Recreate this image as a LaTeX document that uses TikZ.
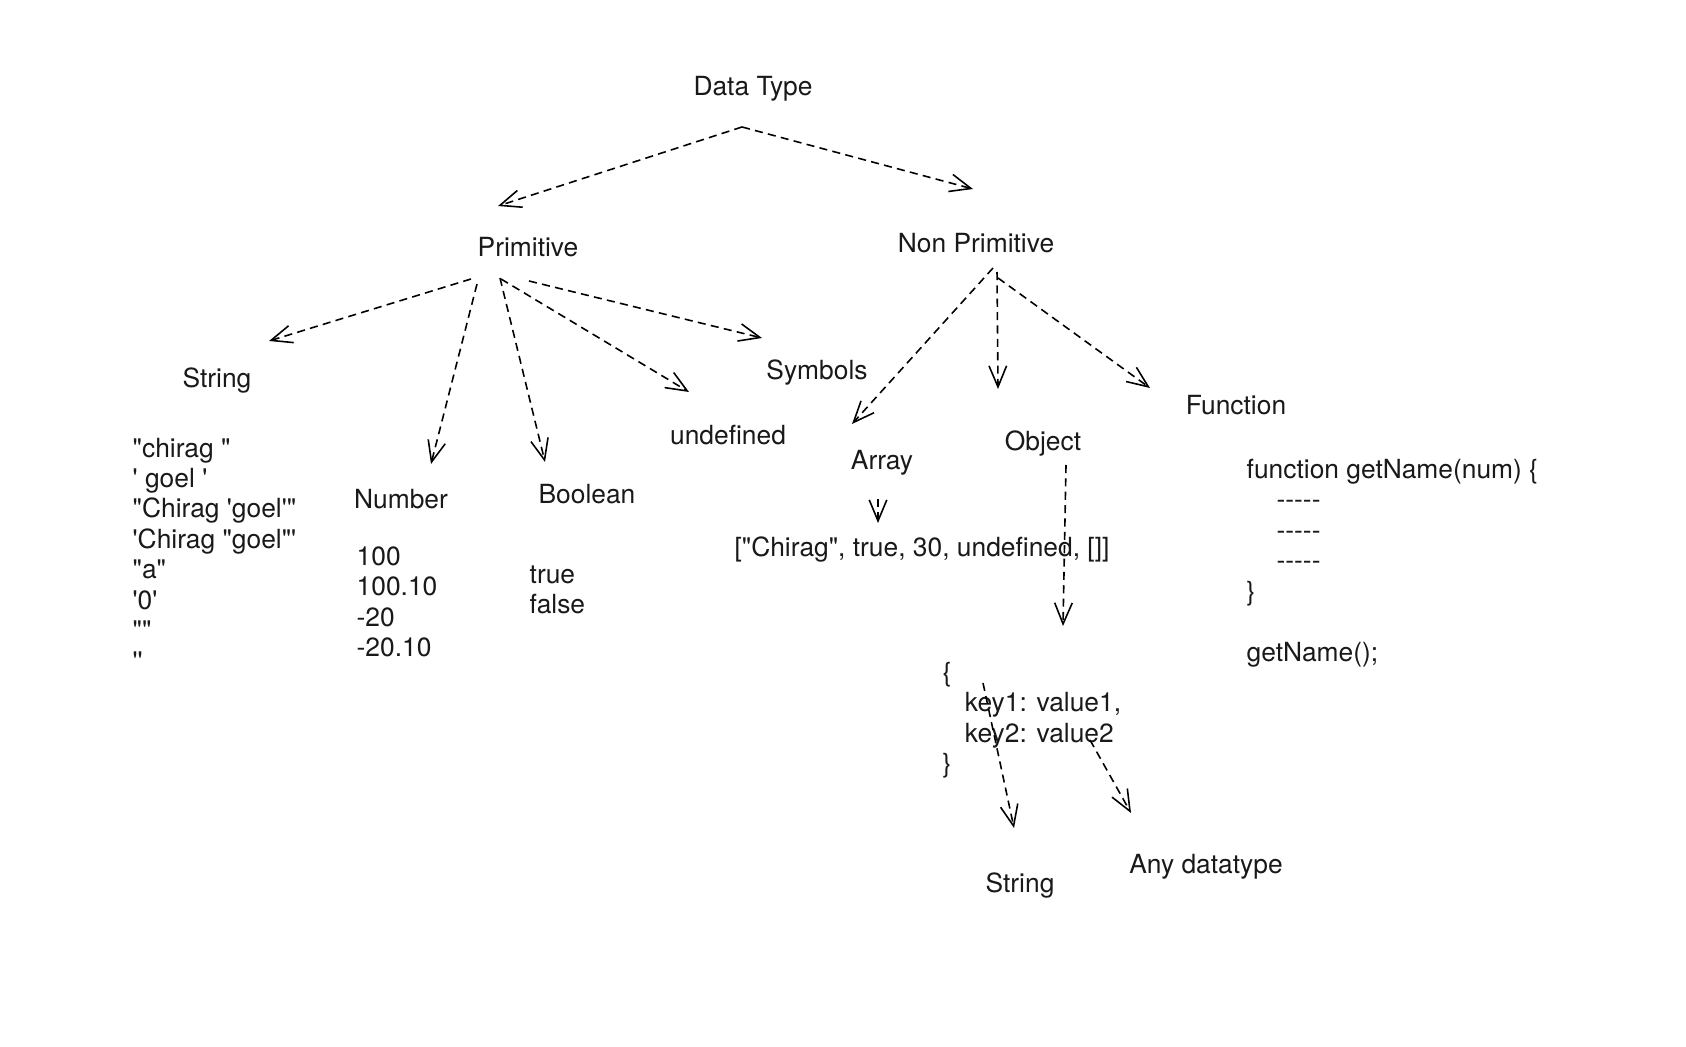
\documentclass[tikz,border=0pt]{standalone}
\usepackage{fontspec}
\newfontfamily\heros{TeX Gyre Heros}
\usetikzlibrary{arrows.meta}

\begin{document}
\begin{tikzpicture}[x=0.01cm, y=-0.01cm,
      tname/.style={font=\heros\fontsize{7.5pt}{8.65pt}\selectfont, text=black!90, inner sep=0pt},
      tlist/.style={tname, align=left, anchor=west},
      dasharrow/.style={line width=0.45pt, dash pattern=on 2.3pt off 1.5pt, -{Straight Barb[length=6pt, width=5pt]}}
    ]
    \useasboundingbox (0,0) rectangle (1686,1046);

    % tree labels
    \node[tname] (dt) at (753,89) {Data Type};
    \node[tname] (prim) at (528,247) {Primitive};
    \node[tname] (nprim) at (976,243) {Non Primitive};
    \node[tname] (string) at (217,381) {String};
    \node[tname] (number) at (401,499) {Number};
    \node[tname] (bool) at (587,494) {Boolean};
    \node[tname] (undef) at (728,435) {undefined};
    \node[tname] (symb) at (817,373) {Symbols};
    \node[tname] (array) at (882,463) {Array};
    \node[tname] (object) at (1043,444) {Object};
    \node[tname] (func) at (1236,405) {Function};
    \node[tname] (keystr) at (1020,886) {String};
    \node[tname] (anyt) at (1206,867) {Any datatype};

    % examples
    \node[tlist] (strval) at (132,554) {"chirag "\\' goel '\\"Chirag 'goel'"\\'Chirag "goel"'\\"a"\\'0'\\""\\''};
    \node[tlist] (numval) at (356,602) {100\\100.10\\-20\\-20.10};
    \node[tlist] (boolval) at (529,590) {true\\false};
    \node[tname] (arrval) at (922,550) {["Chirag", true, 30, undefined, []]};
    \node[tlist] (objval) at (942,720) {\{\\\hspace*{6.3pt}key1: value1,\\\hspace*{6.3pt}key2: value2\\\}};
    \node[tlist] (funcval) at (1246,563) {function getName(num) \{\\\hspace*{8.5pt}-----\\\hspace*{8.5pt}-----\\\hspace*{8.5pt}-----\\\}\\[8.65pt]getName();};

    \draw[dasharrow] ([shift={(-11,38)}]dt.center) -- ([shift={(-30,-41)}]prim.center);
    \draw[dasharrow] ([shift={(-11,38)}]dt.center) -- ([shift={(-3,-54)}]nprim.center);

    \draw[dasharrow] ([shift={(-57,32)}]prim.center) -- ([shift={(52,-40)}]string.center);
    \draw[dasharrow] ([shift={(-51,37)}]prim.center) -- ([shift={(30,-35)}]number.center);
    \draw[dasharrow] ([shift={(-28,31)}]prim.center) -- ([shift={(-42,-32)}]bool.center);
    \draw[dasharrow] ([shift={(-27,32)}]prim.center) -- ([shift={(-39,-43)}]undef.center);
    \draw[dasharrow] ([shift={(1,34)}]prim.center) -- ([shift={(-55,-35)}]symb.center);

    \draw[dasharrow] ([shift={(17,25)}]nprim.center) -- ([shift={(-30,-39)}]array.center);
    \draw[dasharrow] ([shift={(21,29)}]nprim.center) -- ([shift={(-45,-55)}]object.center);
    \draw[dasharrow] ([shift={(22,35)}]nprim.center) -- ([shift={(-86,-17)}]func.center);

    \draw[dasharrow] ([shift={(-4,36)}]array.center) -- ([shift={(-44,-27)}]arrval.center);
    \draw[dasharrow] ([shift={(23,21)}]object.center) -- ([shift={(121,-94)}]objval.west);
    \draw[dasharrow] ([shift={(41,-37)}]objval.west) -- ([shift={(-6,-58)}]keystr.center);
    \draw[dasharrow] ([shift={(148,20)}]objval.west) -- ([shift={(-75,-54)}]anyt.center);
  \end{tikzpicture}
\end{document}
